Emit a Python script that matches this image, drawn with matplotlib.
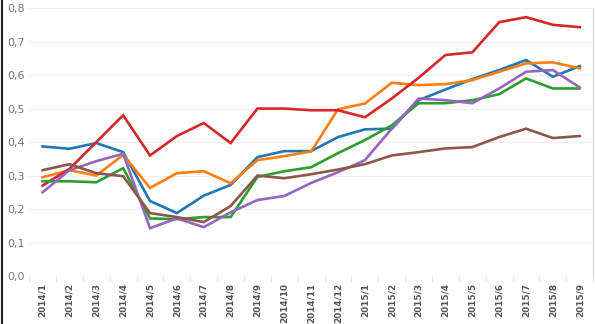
import matplotlib.pyplot as plt
from matplotlib.lines import Line2D
from matplotlib.ticker import FuncFormatter, MultipleLocator

months = ['2014/1', '2014/2', '2014/3', '2014/4', '2014/5', '2014/6', '2014/7',
          '2014/8', '2014/9', '2014/10', '2014/11', '2014/12', '2015/1', '2015/2',
          '2015/3', '2015/4', '2015/5', '2015/6', '2015/7', '2015/8', '2015/9']

blue = [0.387, 0.380, 0.397, 0.370, 0.224, 0.188, 0.240, 0.272, 0.355, 0.373, 0.373,
        0.415, 0.438, 0.440, 0.525, 0.557, 0.588, 0.615, 0.645, 0.595, 0.627]
orange = [0.295, 0.316, 0.300, 0.362, 0.263, 0.307, 0.313, 0.277, 0.346, 0.358, 0.372,
          0.498, 0.515, 0.577, 0.570, 0.573, 0.585, 0.610, 0.635, 0.638, 0.620]
red = [0.270, 0.320, 0.400, 0.480, 0.360, 0.418, 0.457, 0.397, 0.500, 0.500, 0.495,
       0.495, 0.474, 0.530, 0.592, 0.660, 0.668, 0.758, 0.773, 0.750, 0.743]
green = [0.283, 0.283, 0.280, 0.322, 0.172, 0.170, 0.176, 0.176, 0.296, 0.313, 0.325,
         0.367, 0.406, 0.450, 0.516, 0.516, 0.525, 0.543, 0.590, 0.560, 0.560]
purple = [0.250, 0.316, 0.343, 0.365, 0.143, 0.172, 0.146, 0.190, 0.227, 0.239, 0.278,
          0.310, 0.346, 0.440, 0.530, 0.525, 0.516, 0.560, 0.610, 0.615, 0.563]
brown = [0.316, 0.334, 0.307, 0.298, 0.188, 0.176, 0.161, 0.209, 0.300, 0.292, 0.304,
         0.318, 0.334, 0.360, 0.370, 0.381, 0.385, 0.415, 0.440, 0.412, 0.418]

series = [
  (blue,   '#1f77b4'),
  (orange, '#ff7f0e'),
  (red,    '#d62728'),
  (green,  '#2ca02c'),
  (purple, '#9467bd'),
  (brown,  '#8c564b'),
]

fig = plt.figure(figsize=(5.95, 3.24), dpi=100)
ax = fig.add_axes([0.049, 0.148, 0.948, 0.827])

x = list(range(len(months)))
for values, color in series:
  ax.plot(x, values, color=color, linewidth=1.9, solid_joinstyle='miter')

ax.set_ylim(0, 0.8)
ax.set_xlim(-0.5, len(months) - 0.5)
ax.yaxis.set_major_locator(MultipleLocator(0.1))
ax.yaxis.set_major_formatter(FuncFormatter(lambda v, p: '{:.1f}'.format(v).replace('.', ',')))
ax.grid(axis='y', color='#efefef', linewidth=0.8)
ax.set_axisbelow(True)

ax.set_xticks(x)
ax.set_xticklabels(months, rotation=90, fontsize=6.4, fontweight='bold', color='#555555')
ax.set_xticks([i - 0.5 for i in range(len(months) + 1)], minor=True)
ax.tick_params(axis='x', which='major', length=0, pad=5)
ax.tick_params(axis='x', which='minor', length=4, color='#dddddd')
ax.tick_params(axis='y', length=0, labelsize=8, labelcolor='#777777', pad=3)

for side in ['top', 'left', 'bottom']:
  ax.spines[side].set_visible(False)
ax.spines['right'].set_color('#d8d8d8')

# dark border on the left edge
fig.add_artist(Line2D([0.004, 0.004], [0, 1], color='#222222', linewidth=1.5,
                      transform=fig.transFigure))

fig.savefig('out.png', dpi=100)
